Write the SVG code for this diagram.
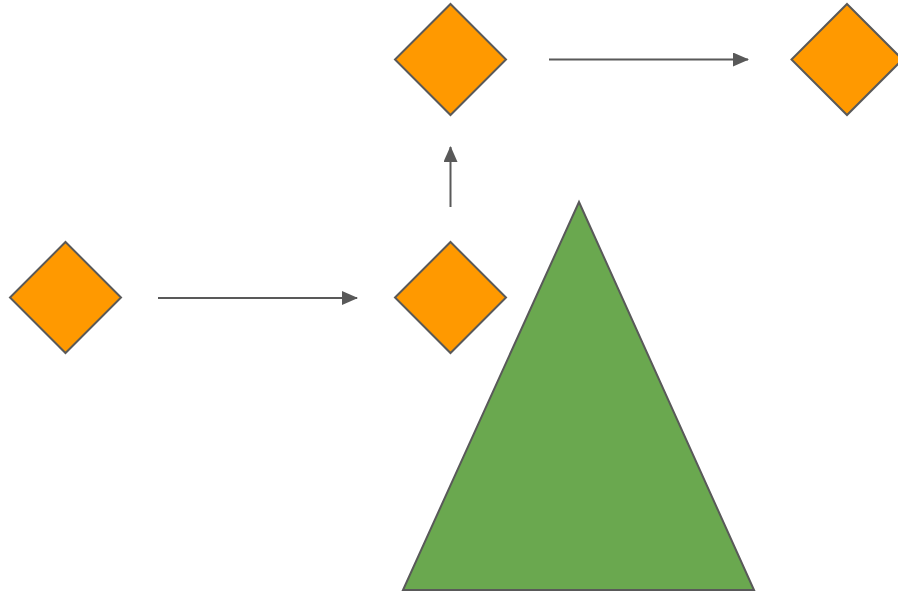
<svg xmlns="http://www.w3.org/2000/svg" width="898" height="595" viewBox="0 0 898 595">
  <style>
    .diamond { fill: #ff9900; stroke: #595959; stroke-width: 2; }
    .tri { fill: #6aa84f; stroke: #595959; stroke-width: 2; stroke-linejoin: miter; }
    .edge { stroke: #595959; stroke-width: 2; fill: none; }
  </style>
  <defs>
    <marker id="arrow" viewBox="0 0 16 14" refX="15" refY="7" markerWidth="16" markerHeight="14" markerUnits="userSpaceOnUse" orient="auto">
      <path d="M0,0 L16,7 L0,14 Z" fill="#595959"/>
    </marker>
  </defs>
  <rect width="898" height="595" fill="#ffffff"/>

  <g id="triangle">
    <polygon class="tri" points="579,202 754,590 403,590"/>
  </g>

  <g id="node-a">
    <polygon class="diamond" points="65.5,242 121,297.5 65.5,353 10,297.5"/>
  </g>
  <g id="node-b">
    <polygon class="diamond" points="450.5,242 506,297.5 450.5,353 395,297.5"/>
  </g>
  <g id="node-c">
    <polygon class="diamond" points="450.5,4 506,59.5 450.5,115 395,59.5"/>
  </g>
  <g id="node-d">
    <polygon class="diamond" points="847,4 902.5,59.5 847,115 791.5,59.5"/>
  </g>

  <g id="connectors">
    <line class="edge" x1="158" y1="298" x2="357" y2="298" marker-end="url(#arrow)"/>
    <line class="edge" x1="450.5" y1="207" x2="450.5" y2="147" marker-end="url(#arrow)"/>
    <line class="edge" x1="549" y1="59.5" x2="748" y2="59.5" marker-end="url(#arrow)"/>
  </g>
</svg>
